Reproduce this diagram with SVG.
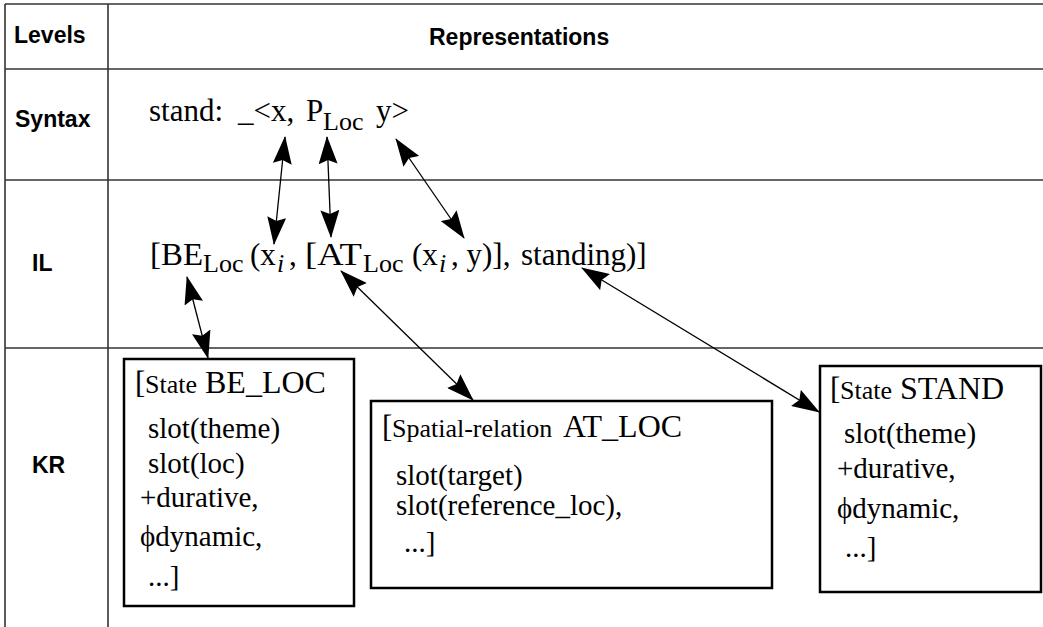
<svg xmlns="http://www.w3.org/2000/svg" width="1043" height="627" viewBox="0 0 1043 627">
<defs>
<style>
.hdr{font-family:"Liberation Sans",Arial,sans-serif;font-weight:bold;font-size:23px;fill:#000}
.f{font-family:"Liberation Serif","Times New Roman",serif;font-size:31px;fill:#000}
.sub{font-size:26px}
.it{font-style:italic}
.sm{font-size:26px}
.big{font-size:32px}
.body{font-size:29px}
.grid line{stroke:#333;stroke-width:1.6}
.box{fill:#fff;stroke:#000;stroke-width:2.5}
.conn line{stroke:#000;stroke-width:1.3;marker-start:url(#ah);marker-end:url(#ah)}
</style>
<marker id="ah" viewBox="0 0 28 19" refX="27" refY="9.5" markerWidth="28" markerHeight="19" markerUnits="userSpaceOnUse" orient="auto-start-reverse">
<path d="M0,0 L28,9.5 L0,19 L4,9.5 Z" fill="#000"/>
</marker>
</defs>
<rect width="1043" height="627" fill="#fff"/>
<g id="table" class="grid">
<line x1="5" y1="4" x2="1043" y2="4"/>
<line x1="5" y1="69" x2="1043" y2="69"/>
<line x1="5" y1="180" x2="1043" y2="180"/>
<line x1="5" y1="348" x2="1043" y2="348"/>
<line x1="5" y1="4" x2="5" y2="627"/>
<line x1="108" y1="4" x2="108" y2="627"/>
</g>
<g id="labels">
<text class="hdr" x="14" y="43">Levels</text>
<text class="hdr" x="429" y="45">Representations</text>
<text class="hdr" x="15" y="127">Syntax</text>
<text class="hdr" x="32" y="271">IL</text>
<text class="hdr" x="32" y="473">KR</text>
</g>
<g id="syntax" class="f">
<text x="149" y="121">stand:</text>
<text x="238" y="121">_&lt;x,</text>
<text x="306" y="121">P</text>
<text class="sub" x="323" y="130">Loc</text>
<text x="376" y="121">y&gt;</text>
</g>
<g id="il" class="f">
<text x="150" y="265" textLength="53" lengthAdjust="spacingAndGlyphs">[BE</text>
<text class="sub" x="203" y="272">Loc</text>
<text x="250" y="265">(x</text>
<text class="sub it" x="277" y="272">i</text>
<text x="289" y="265">,</text>
<text x="305" y="265" textLength="57" lengthAdjust="spacingAndGlyphs">[AT</text>
<text class="sub" x="363" y="272">Loc</text>
<text x="412" y="265">(x</text>
<text class="sub it" x="439" y="272">i</text>
<text x="451" y="265">, y)],</text>
<text x="521" y="265">standing)]</text>
</g>
<g id="be_loc" class="f">
<rect class="box" x="124" y="359" width="230" height="247"/>
<text x="135" y="393">[</text>
<text class="sm" x="145" y="393">State</text>
<text class="big" x="205" y="393">BE_LOC</text>
<text class="body" x="148" y="438">slot(theme)</text>
<text class="body" x="148" y="473">slot(loc)</text>
<text class="body" x="140" y="507">+durative,</text>
<text class="body" x="140" y="546">ϕdynamic,</text>
<text class="body" x="148" y="586">...]</text>
</g>
<g id="at_loc" class="f">
<rect class="box" x="371" y="401" width="401" height="187"/>
<text x="382" y="437">[</text>
<text class="sm" x="392" y="437">Spatial-relation</text>
<text class="big" x="563" y="437">AT_LOC</text>
<text class="body" x="396" y="485">slot(target)</text>
<text class="body" x="396" y="515">slot(reference_loc),</text>
<text class="body" x="404" y="552">...]</text>
</g>
<g id="stand" class="f">
<rect class="box" x="820" y="366" width="221" height="226"/>
<text x="830" y="399">[</text>
<text class="sm" x="840" y="399">State</text>
<text class="big" x="900" y="399">STAND</text>
<text class="body" x="844" y="443">slot(theme)</text>
<text class="body" x="837" y="478">+durative,</text>
<text class="body" x="837" y="518">ϕdynamic,</text>
<text class="body" x="845" y="557">...]</text>
</g>
<g id="connectors" class="conn">
<line x1="285" y1="137" x2="274" y2="244"/>
<line x1="327" y1="137" x2="331" y2="237"/>
<line x1="396" y1="139" x2="464" y2="238"/>
<line x1="187" y1="277" x2="208" y2="358"/>
<line x1="341" y1="271" x2="473" y2="400"/>
<line x1="582" y1="268" x2="819" y2="412"/>
</g>
</svg>
